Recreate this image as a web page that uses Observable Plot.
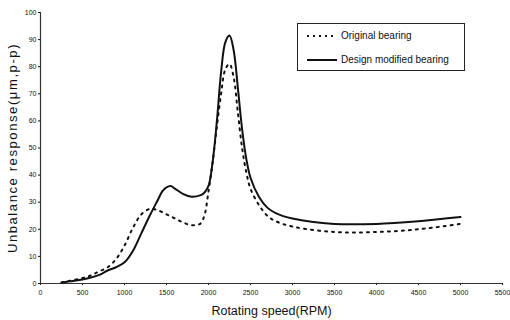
<!DOCTYPE html>
<html><head><meta charset="utf-8">
<script src="https://cdn.jsdelivr.net/npm/d3@7"></script>
<script src="https://cdn.jsdelivr.net/npm/@observablehq/plot@0.6"></script>
<style>
body{margin:0;background:#fff;font-family:"Liberation Sans",Arial,sans-serif;}
#wrap{position:relative;width:510px;height:320px;}
#legend{position:absolute;left:297px;top:23px;width:168px;height:48px;border:1px solid #222;background:#fff;box-sizing:border-box;font-size:10px;color:#111;}
#legend .row{position:absolute;left:8px;display:flex;align-items:center;}
#legend svg{margin-right:3px;}
</style></head>
<body><div id="wrap"><div id="legend"></div></div>
<script>
const seriesNames = ["Original bearing", "Design modified bearing"];
const rpmOriginal = [250,350,500,600,700,800,900,1000,1100,1200,1300,1400,1500,1600,1700,1800,1900,1950,2000,2050,2100,2150,2200,2250,2300,2350,2400,2450,2500,2600,2700,2800,3000,3500,4000,4500,5000];
const valOriginal = [0.4,1,2,3,4.5,6,9,14,20.5,25.5,27.5,27,25.5,24,22.5,21.5,22,25,34,45,58,70,79,81,76,63,50,41,35,29,25,23,21,19,19,20,22];
const rpmModified = [250,350,500,600,700,800,900,1000,1100,1200,1300,1400,1450,1500,1550,1600,1700,1800,1900,1950,2000,2050,2100,2150,2200,2250,2300,2350,2400,2450,2500,2600,2700,2800,3000,3500,4000,4500,5000];
const valModified = [0.3,0.8,1.5,2.2,3.2,4.8,6,7.8,12,18.5,25,31,34,35.5,36,35,33,32,32.5,33.5,36,45,60,78,89,91.5,86,72,57,46,39,32,28,26,24,22,22,23,24.5];
const xTicks = [0,500,1000,1500,2000,2500,3000,3500,4000,4500,5000,5500];
const yTicks = [0,10,20,30,40,50,60,70,80,90,100];

const orig = rpmOriginal.map((r,i)=>({rpm:r, v:valOriginal[i]}));
const mod = rpmModified.map((r,i)=>({rpm:r, v:valModified[i]}));

const chart = Plot.plot({
  width:510, height:320,
  marginLeft:40, marginRight:8, marginTop:12, marginBottom:37,
  style:{fontFamily:"Liberation Sans, Arial, sans-serif", background:"#fff", color:"#111"},
  x:{domain:[0,5500], ticks:xTicks},
  y:{domain:[0,100], ticks:yTicks},
  marks:[
    Plot.axisX({ticks:xTicks, tickSize:2, fontSize:7, tickPadding:5, label:null, tickFormat:d=>String(d)}),
    Plot.axisY({ticks:yTicks, tickSize:2, fontSize:7, tickPadding:2, label:null, tickFormat:d=>String(d)}),
    Plot.ruleX([0], {y1:0, y2:100, stroke:"#333", strokeWidth:1.2}),
    Plot.ruleY([0], {stroke:"#333", strokeWidth:1}),
    Plot.line(orig, {x:"rpm", y:"v", curve:"catmull-rom", stroke:"#111", strokeWidth:2, strokeDasharray:"2,5"}),
    Plot.line(mod, {x:"rpm", y:"v", curve:"catmull-rom", stroke:"#111", strokeWidth:2}),
    Plot.text(["Rotating speed(RPM)"], {frameAnchor:"bottom", dy:31, fontSize:12.5, fill:"#111"}),
    Plot.text(["Unbalance response(μm,p-p)"], {frameAnchor:"left", textAnchor:"middle", dx:-28, rotate:-90, fontSize:13, fill:"#111", className:"ylab"})
  ]
});
chart.querySelectorAll("g[aria-label='text'] text").forEach(t=>{
  if (t.textContent.startsWith("Unbalance")) t.setAttribute("letter-spacing","1.6");
});
document.getElementById("wrap").prepend(chart);
chart.style.position="absolute"; chart.style.left="0"; chart.style.top="0";

const leg = document.getElementById("legend");
const dashes = ["2,4", null];
seriesNames.forEach((n,i)=>{
  const row = document.createElement("div");
  row.className="row";
  row.style.top = (i===0? 6 : 30) + "px";
  row.innerHTML = `<svg width="32" height="6"><line x1="1" y1="3" x2="31" y2="3" stroke="#111" stroke-width="2" ${dashes[i]?`stroke-dasharray="${dashes[i]}"`:""}/></svg><span>${n}</span>`;
  leg.appendChild(row);
});
</script></body></html>
